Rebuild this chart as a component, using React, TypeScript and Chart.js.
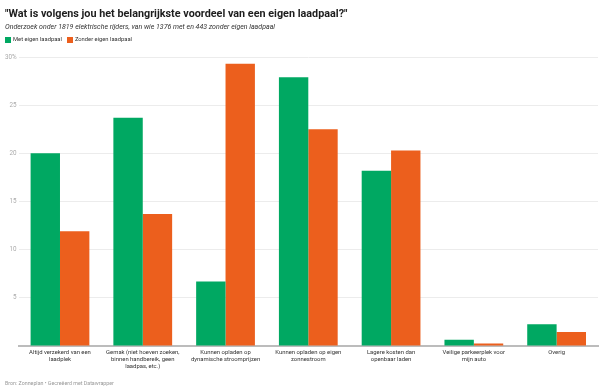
import React, { useEffect, useRef } from "react";
import { Chart, registerables } from "chart.js";

Chart.register(...registerables);

const categories: string[][] = [
  ["Altijd verzekerd van een", "laadplek"],
  ["Gemak (niet hoeven zoeken,", "binnen handbereik, geen", "laadpas, etc.)"],
  ["Kunnen opladen op", "dynamische stroomprijzen"],
  ["Kunnen opladen op eigen", "zonnestroom"],
  ["Lagere kosten dan", "openbaar laden"],
  ["Veilige parkeerplek voor", "mijn auto"],
  ["Overig"],
];
const metEigen: number[] = [20.0, 23.7, 6.7, 27.9, 18.2, 0.65, 2.25];
const zonderEigen: number[] = [11.9, 13.7, 29.3, 22.5, 20.3, 0.25, 1.45];
const seriesNames: string[] = ["Met eigen laadpaal", "Zonder eigen laadpaal"];
const yTicks: number[] = [0, 5, 10, 15, 20, 25, 30];

const GREEN = "#00A862";
const ORANGE = "#EC5F1D";
const FONT = "Roboto, 'Noto Sans', sans-serif";

export default function App() {
  const ref = useRef<HTMLCanvasElement>(null);

  useEffect(() => {
    document.body.style.margin = "0";
    const canvas = ref.current!;
    const chart = new Chart(canvas, {
      type: "bar",
      data: {
        labels: categories,
        datasets: [
          { label: seriesNames[0], data: metEigen, backgroundColor: GREEN, borderWidth: 0 },
          { label: seriesNames[1], data: zonderEigen, backgroundColor: ORANGE, borderWidth: 0 },
        ],
      },
      options: {
        responsive: false,
        animation: false,
        devicePixelRatio: 1,
        layout: { padding: { top: 57, left: 0, right: 2, bottom: 16 } },
        plugins: { legend: { display: false }, tooltip: { enabled: false }, title: { display: false } },
        datasets: { bar: { categoryPercentage: 0.71, barPercentage: 1.0 } },
        scales: {
          x: {
            grid: { display: false, drawTicks: false },
            border: { display: true, color: "#bcbcbc", width: 2 },
            ticks: {
              autoSkip: false,
              maxRotation: 0,
              minRotation: 0,
              padding: 3.5,
              color: "#333333",
              font: { family: FONT, size: 5.9, lineHeight: 1.15 },
            },
            afterFit: (s: any) => { s.height = 30; },
          },
          y: {
            min: 0,
            max: 30,
            afterBuildTicks: (s: any) => { s.ticks = yTicks.map((v) => ({ value: v })); },
            grid: { color: "#ececec", lineWidth: 1, drawTicks: false },
            border: { display: false },
            ticks: {
              padding: 2,
              color: "#aaaaaa",
              font: { family: FONT, size: 6.3 },
              callback: (v: any) => (v === 0 ? "" : v === 30 ? "30%" : String(v)),
            },
            afterFit: (s: any) => { s.width = 18.6; },
          },
        },
      },
    });
    return () => chart.destroy();
  }, []);

  const sq = (c: string): React.CSSProperties => ({
    display: "inline-block", width: 6, height: 6, background: c, marginRight: 2,
  });

  return (
    <div style={{ position: "relative", width: 600, height: 392, fontFamily: FONT, background: "#fff" }}>
      <canvas ref={ref} width={600} height={392} style={{ position: "absolute", left: 0, top: 0 }} />
      <div style={{ position: "absolute", left: 5, top: 6.5, fontSize: 10.8, fontWeight: 700, color: "#1d1d1d", whiteSpace: "nowrap", lineHeight: "14px" }}>
        "Wat is volgens jou het belangrijkste voordeel van een eigen laadpaal?"
      </div>
      <div style={{ position: "absolute", left: 5, top: 22, fontSize: 7, fontStyle: "italic", color: "#333", whiteSpace: "nowrap", lineHeight: "10px" }}>
        Onderzoek onder 1819 elektrische rijders, van wie 1376 met en 443 zonder eigen laadpaal
      </div>
      <div style={{ position: "absolute", left: 5, top: 35, fontSize: 5.8, color: "#333", whiteSpace: "nowrap", lineHeight: "9px", height: 9, display: "flex", alignItems: "center" }}>
        <span style={sq(GREEN)} />
        <span style={{ marginRight: 5 }}>{seriesNames[0]}</span>
        <span style={sq(ORANGE)} />
        <span>{seriesNames[1]}</span>
      </div>
      <div style={{ position: "absolute", left: 5, top: 378.5, fontSize: 5.3, color: "#999", whiteSpace: "nowrap", lineHeight: "9px" }}>
        Bron: Zonneplan • Gecreëerd met Datawrapper
      </div>
    </div>
  );
}
